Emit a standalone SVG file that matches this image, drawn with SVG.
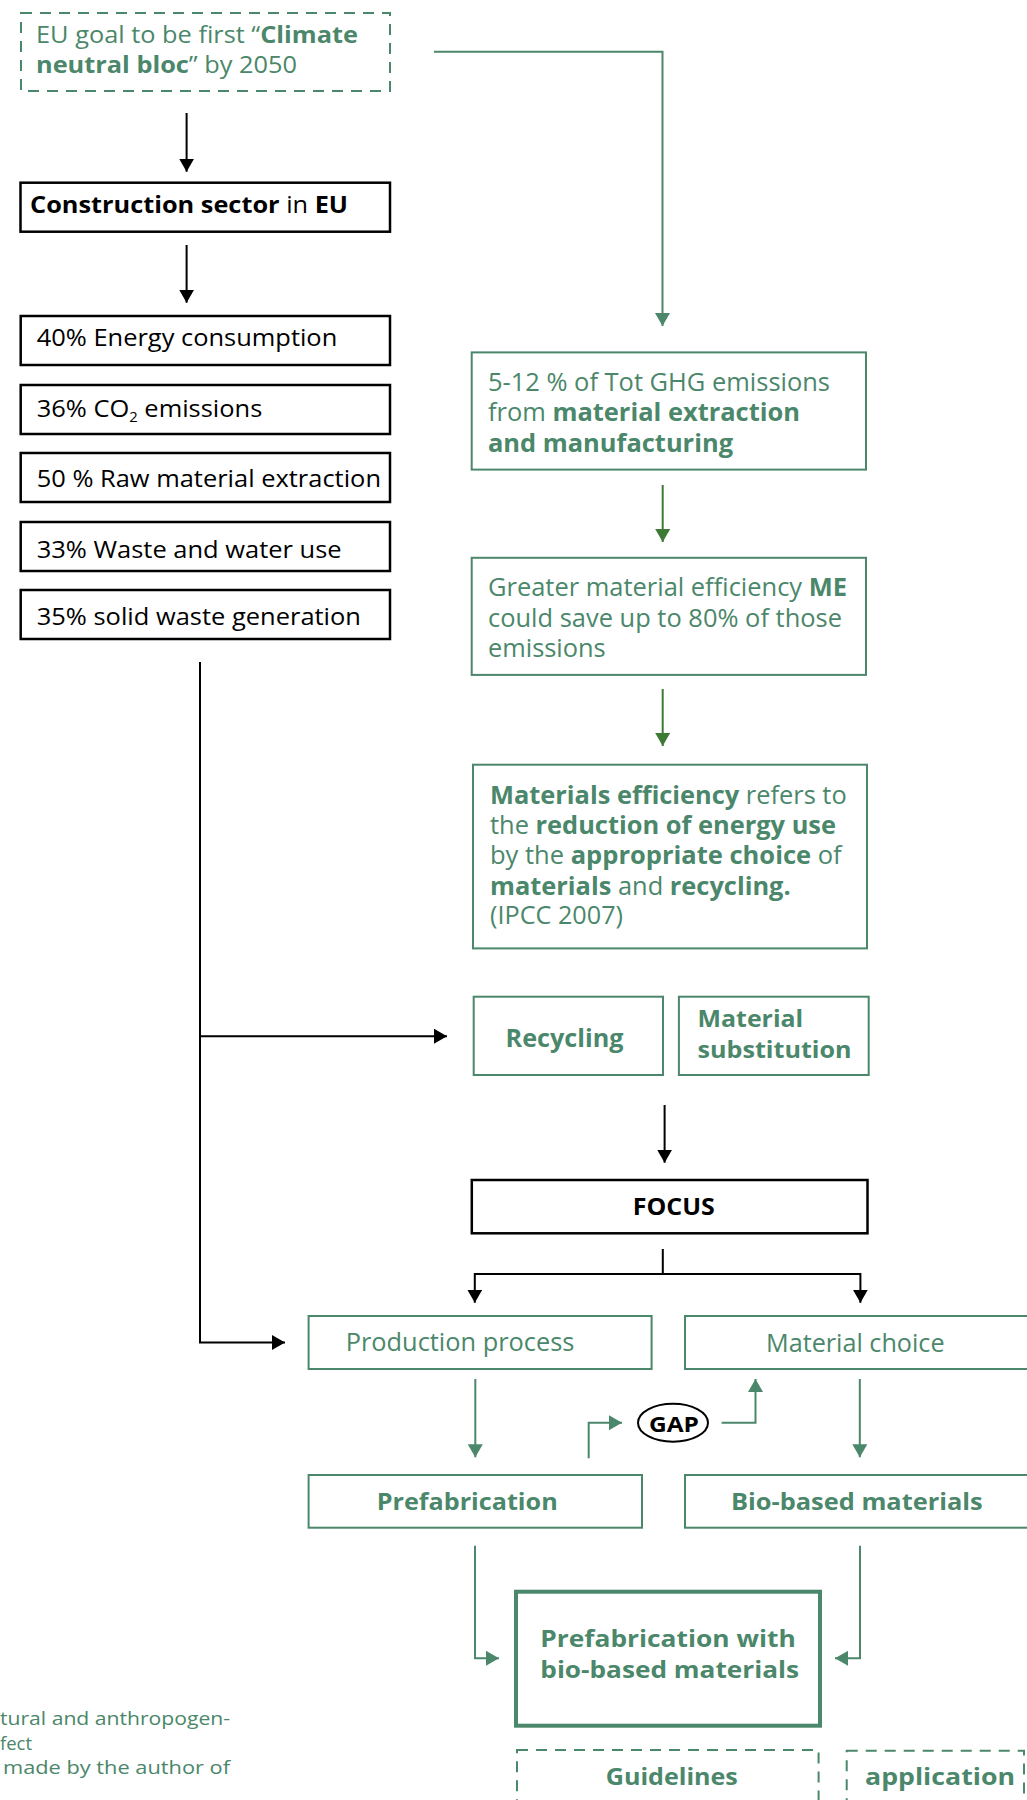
<svg xmlns="http://www.w3.org/2000/svg" width="1027" height="1800" viewBox="0 0 1027 1800">
<style>
  .bg{fill:#ffffff}
  .gbox{fill:none;stroke:#4b876a;stroke-width:2}
  .gdash{fill:none;stroke:#4b876a;stroke-width:2;stroke-dasharray:11 8}
  .kbox{fill:none;stroke:#000;stroke-width:2.5}
  .t{font-family:"Open Sans","Liberation Sans",sans-serif}
  .g{fill:#4b876a}
  .k{fill:#000}
  .b{font-weight:bold}
  .kl{fill:none;stroke:#000;stroke-width:2}
  .gl{fill:none;stroke:#4b876a;stroke-width:2}
  .dl{fill:none;stroke:#3d7a34;stroke-width:2}
</style>
<defs>
  <marker id="ak" viewBox="0 0 13 15" refX="13" refY="7.5" markerWidth="13" markerHeight="15" markerUnits="userSpaceOnUse" orient="auto"><path d="M0,0 L13,7.5 L0,15 z" fill="#000"/></marker>
  <marker id="ag" viewBox="0 0 13 15" refX="13" refY="7.5" markerWidth="13" markerHeight="15" markerUnits="userSpaceOnUse" orient="auto"><path d="M0,0 L13,7.5 L0,15 z" fill="#4b876a"/></marker>
  <marker id="ad" viewBox="0 0 13 15" refX="13" refY="7.5" markerWidth="13" markerHeight="15" markerUnits="userSpaceOnUse" orient="auto"><path d="M0,0 L13,7.5 L0,15 z" fill="#3d7a34"/></marker>
</defs>
<rect class="bg" x="0" y="0" width="1027" height="1800"/>

<g id="connectors">
  <path class="kl" d="M186.6,113 V171.7" marker-end="url(#ak)"/>
  <path class="kl" d="M186.6,245 V302.7" marker-end="url(#ak)"/>
  <path class="gl" d="M434,51.7 H662.5 V326" marker-end="url(#ag)"/>
  <path class="dl" d="M662.7,485 V542" marker-end="url(#ad)"/>
  <path class="dl" d="M662.7,689 V746" marker-end="url(#ad)"/>
  <path class="kl" d="M200,662 V1342.5 H285" marker-end="url(#ak)"/>
  <path class="kl" d="M200,1036.2 H447" marker-end="url(#ak)"/>
  <path class="kl" d="M664.6,1105 V1162.7" marker-end="url(#ak)"/>
  <path class="kl" d="M662.8,1249 V1274 H474.8 V1302.7" marker-end="url(#ak)"/>
  <path class="kl" d="M662.8,1274 H860.4 V1302.7" marker-end="url(#ak)"/>
  <path class="gl" d="M475.3,1379 V1457.3" marker-end="url(#ag)"/>
  <path class="gl" d="M859.8,1379 V1457.3" marker-end="url(#ag)"/>
  <path class="gl" d="M588.7,1458.3 V1422.7 H622" marker-end="url(#ag)"/>
  <path class="gl" d="M721.6,1422.7 H755.5 V1379" marker-end="url(#ag)"/>
  <path class="gl" d="M475,1545.7 V1658.3 H499" marker-end="url(#ag)"/>
  <path class="gl" d="M860,1545.7 V1658.3 H835" marker-end="url(#ag)"/>
</g>

<g id="goal">
  <rect class="gdash" x="21" y="13" width="369" height="78"/>
  <text class="t g" x="36" y="42.7" font-size="23" textLength="322" lengthAdjust="spacingAndGlyphs">EU goal to be first “<tspan class="b">Climate</tspan></text>
  <text class="t g" x="36" y="73.3" font-size="23" textLength="261" lengthAdjust="spacingAndGlyphs"><tspan class="b">neutral bloc</tspan>” by 2050</text>
</g>

<g id="construction">
  <rect class="kbox" x="20.5" y="182.7" width="369.5" height="49"/>
  <text class="t k" x="30" y="213.3" font-size="23" textLength="318" lengthAdjust="spacingAndGlyphs"><tspan class="b">Construction sector</tspan> in <tspan class="b">EU</tspan></text>
</g>

<g id="energy">
  <rect class="kbox" x="20.7" y="316" width="369.3" height="49"/>
  <text class="t k" x="36.7" y="345.7" font-size="24" textLength="300.6" lengthAdjust="spacingAndGlyphs">40% Energy consumption</text>
</g>
<g id="co2">
  <rect class="kbox" x="20.7" y="385" width="369.3" height="49"/>
  <text class="t k" x="36.7" y="416.7" font-size="24" textLength="225.6" lengthAdjust="spacingAndGlyphs">36% CO<tspan font-size="14" dy="5">2</tspan><tspan dy="-5"> emissions</tspan></text>
</g>
<g id="raw">
  <rect class="kbox" x="20.7" y="453" width="369.3" height="49"/>
  <text class="t k" x="36.7" y="486.7" font-size="24" textLength="344.3" lengthAdjust="spacingAndGlyphs">50 % Raw material extraction</text>
</g>
<g id="water">
  <rect class="kbox" x="20.7" y="522" width="369.3" height="49"/>
  <text class="t k" x="36.7" y="558.3" font-size="24" textLength="305" lengthAdjust="spacingAndGlyphs">33% Waste and water use</text>
</g>
<g id="solid">
  <rect class="kbox" x="20.7" y="590" width="369.3" height="49"/>
  <text class="t k" x="36.7" y="625" font-size="24" textLength="324.3" lengthAdjust="spacingAndGlyphs">35% solid waste generation</text>
</g>

<g id="ghg">
  <rect class="gbox" x="471.7" y="352.4" width="394.3" height="117.2"/>
  <text class="t g" x="488" y="391.2" font-size="25" textLength="342" lengthAdjust="spacingAndGlyphs">5-12 % of Tot GHG emissions</text>
  <text class="t g" x="488" y="420.6" font-size="25" textLength="312" lengthAdjust="spacingAndGlyphs">from <tspan class="b">material extraction</tspan></text>
  <text class="t g b" x="488" y="451.6" font-size="25" textLength="245" lengthAdjust="spacingAndGlyphs">and manufacturing</text>
</g>

<g id="me">
  <rect class="gbox" x="471.7" y="557.8" width="394.3" height="117.1"/>
  <text class="t g" x="488" y="596.1" font-size="25" textLength="359" lengthAdjust="spacingAndGlyphs">Greater material efficiency <tspan class="b">ME</tspan></text>
  <text class="t g" x="488" y="626.7" font-size="25" textLength="354" lengthAdjust="spacingAndGlyphs">could save up to 80% of those</text>
  <text class="t g" x="488" y="656.5" font-size="25" textLength="117.7" lengthAdjust="spacingAndGlyphs">emissions</text>
</g>

<g id="definition">
  <rect class="gbox" x="473" y="764.7" width="394" height="183.7"/>
  <text class="t g" x="490" y="803.5" font-size="25" textLength="356.7" lengthAdjust="spacingAndGlyphs"><tspan class="b">Materials efficiency</tspan> refers to</text>
  <text class="t g" x="490" y="834" font-size="25" textLength="346" lengthAdjust="spacingAndGlyphs">the <tspan class="b">reduction of energy use</tspan></text>
  <text class="t g" x="490" y="863.9" font-size="25" textLength="351.7" lengthAdjust="spacingAndGlyphs">by the <tspan class="b">appropriate choice</tspan> of</text>
  <text class="t g" x="490" y="894.5" font-size="25" textLength="300.7" lengthAdjust="spacingAndGlyphs"><tspan class="b">materials</tspan> and <tspan class="b">recycling.</tspan></text>
  <text class="t g" x="490" y="923.9" font-size="25" textLength="133" lengthAdjust="spacingAndGlyphs">(IPCC 2007)</text>
</g>

<g id="recycling">
  <rect class="gbox" x="473.7" y="996.7" width="189.3" height="78.3"/>
  <text class="t g b" x="505.5" y="1046.7" font-size="25" textLength="118" lengthAdjust="spacingAndGlyphs">Recycling</text>
</g>
<g id="substitution">
  <rect class="gbox" x="678.9" y="996.7" width="189.8" height="78.3"/>
  <text class="t g b" x="697.6" y="1026.7" font-size="24" textLength="105.5" lengthAdjust="spacingAndGlyphs">Material</text>
  <text class="t g b" x="697.6" y="1058.3" font-size="24" textLength="154" lengthAdjust="spacingAndGlyphs">substitution</text>
</g>

<g id="focus">
  <rect class="kbox" x="471.8" y="1180" width="395.7" height="53.3"/>
  <text class="t k b" x="632.8" y="1215" font-size="23" textLength="82" lengthAdjust="spacingAndGlyphs">FOCUS</text>
</g>

<g id="production">
  <rect class="gbox" x="308.6" y="1316" width="343" height="53"/>
  <text class="t g" x="345.7" y="1351" font-size="25" textLength="228.7" lengthAdjust="spacingAndGlyphs">Production process</text>
</g>
<g id="choice">
  <rect class="gbox" x="685" y="1316" width="360" height="53"/>
  <text class="t g" x="766" y="1351.7" font-size="25" textLength="178.6" lengthAdjust="spacingAndGlyphs">Material choice</text>
</g>

<g id="gap">
  <ellipse cx="673" cy="1422.7" rx="35" ry="19" fill="#fff" stroke="#000" stroke-width="2"/>
  <text class="t k b" x="649" y="1431.7" font-size="21" textLength="50" lengthAdjust="spacingAndGlyphs">GAP</text>
</g>

<g id="prefabrication">
  <rect class="gbox" x="308.6" y="1475" width="333.4" height="52.7"/>
  <text class="t g b" x="376.7" y="1510" font-size="24" textLength="181" lengthAdjust="spacingAndGlyphs">Prefabrication</text>
</g>
<g id="biobased">
  <rect class="gbox" x="685" y="1475" width="360" height="52.7"/>
  <text class="t g b" x="731" y="1510" font-size="24" textLength="251.7" lengthAdjust="spacingAndGlyphs">Bio-based materials</text>
</g>

<g id="combined">
  <rect fill="none" stroke="#4b876a" stroke-width="4" x="516" y="1591.7" width="304" height="134"/>
  <text class="t g b" x="540.3" y="1647.3" font-size="23" textLength="255.4" lengthAdjust="spacingAndGlyphs">Prefabrication with</text>
  <text class="t g b" x="540.3" y="1678.3" font-size="23" textLength="258.7" lengthAdjust="spacingAndGlyphs">bio-based materials</text>
</g>

<g id="guidelines">
  <rect class="gdash" x="517" y="1750" width="301.6" height="80"/>
  <text class="t g b" x="605.8" y="1785" font-size="24" textLength="132" lengthAdjust="spacingAndGlyphs">Guidelines</text>
</g>
<g id="application">
  <rect class="gdash" x="846.7" y="1750.7" width="177.3" height="80"/>
  <text class="t g b" x="865" y="1785" font-size="24" textLength="150" lengthAdjust="spacingAndGlyphs">application</text>
</g>

<g id="caption">
  <text class="t g" x="0" y="1725" font-size="18" textLength="230" lengthAdjust="spacingAndGlyphs">tural and anthropogen-</text>
  <text class="t g" x="0" y="1750" font-size="18" textLength="32" lengthAdjust="spacingAndGlyphs">fect</text>
  <text class="t g" x="3" y="1774" font-size="18" textLength="227" lengthAdjust="spacingAndGlyphs">made by the author of</text>
</g>
</svg>
